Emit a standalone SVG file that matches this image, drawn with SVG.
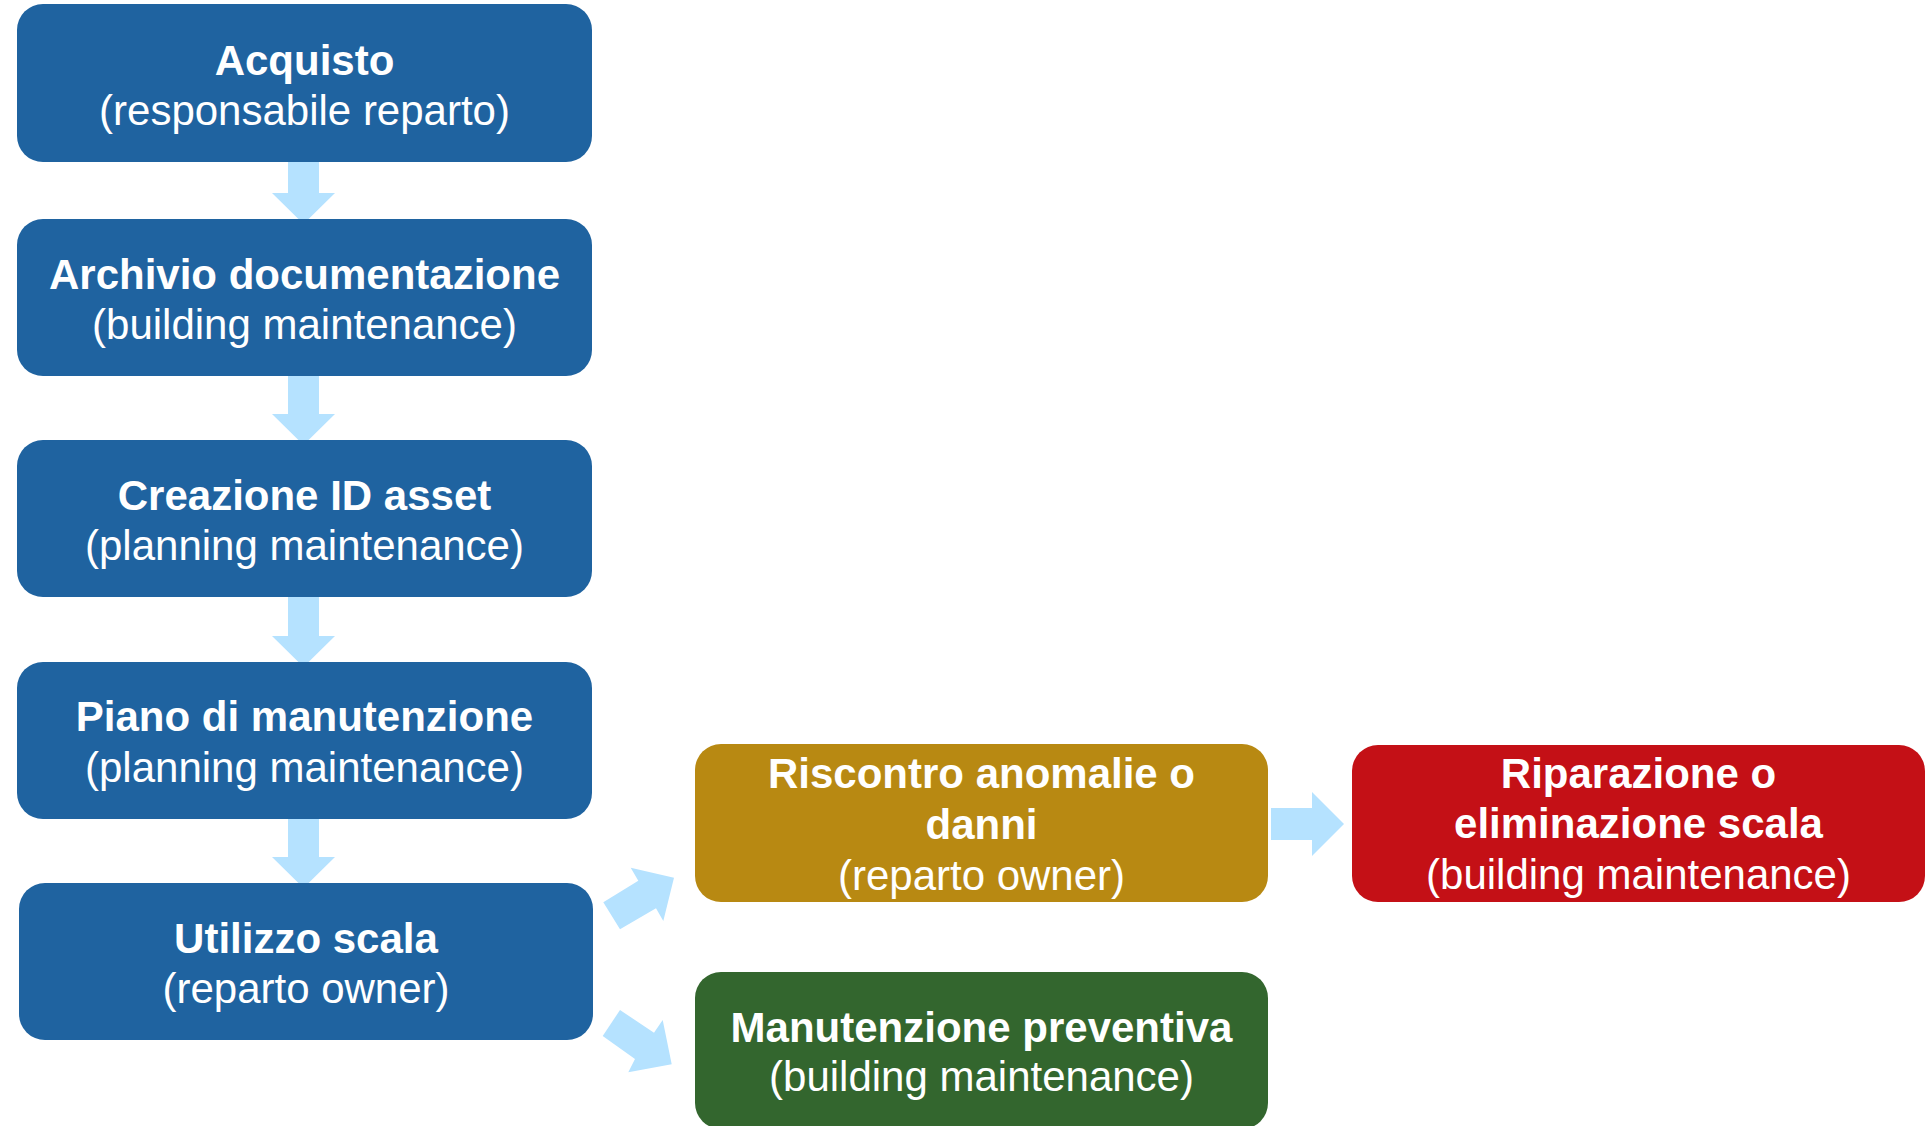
<svg xmlns="http://www.w3.org/2000/svg" width="1926" height="1126" viewBox="0 0 1926 1126">
<style>
.box{stroke:none}
.blue{fill:#1F63A0}
.gold{fill:#B88912}
.red{fill:#C41016}
.green{fill:#33662E}
.arrow{fill:#B5E2FF;stroke:none}
text{font-family:"Liberation Sans",Arial,sans-serif;font-size:42px;fill:#FFFFFF;text-anchor:middle}
.t{font-weight:bold}
</style>
<rect width="1926" height="1126" fill="#FFFFFF"/>
<g id="connectors">
<polygon class="arrow" points="288,152 319,152 319,193 335,193 303.5,224 272,193 288,193"/>
<polygon class="arrow" points="288,368 319,368 319,414 335,414 303.5,445 272,414 288,414"/>
<polygon class="arrow" points="288,589 319,589 319,636 335,636 303.5,667 272,636 288,636"/>
<polygon class="arrow" points="288,811 319,811 319,857 335,857 303.5,888 272,857 288,857"/>
<polygon class="arrow" points="603.3,902.3 638.3,880.7 630.7,867.7 674,877.7 663.3,921 656,908.3 620,929.3"/>
<polygon class="arrow" points="602.7,1036 620,1010 654,1032.7 662.7,1020 671.7,1064.3 628.3,1072.3 635,1059"/>
<polygon class="arrow" points="1271,808 1312,808 1312,792 1344,824 1312,856 1312,840 1271,840"/>
</g>
<g id="acquisto">
<rect class="box blue" x="17" y="4" width="575" height="158" rx="26"/>
<text class="t" x="304.5" y="75">Acquisto</text>
<text x="304.5" y="125">(responsabile reparto)</text>
</g>
<g id="archivio">
<rect class="box blue" x="17" y="219" width="575" height="157" rx="26"/>
<text class="t" x="304.5" y="289">Archivio documentazione</text>
<text x="304.5" y="339">(building maintenance)</text>
</g>
<g id="creazione">
<rect class="box blue" x="17" y="440" width="575" height="157" rx="26"/>
<text class="t" x="304.5" y="510">Creazione ID asset</text>
<text x="304.5" y="560">(planning maintenance)</text>
</g>
<g id="piano">
<rect class="box blue" x="17" y="662" width="575" height="157" rx="26"/>
<text class="t" x="304.5" y="731">Piano di manutenzione</text>
<text x="304.5" y="782">(planning maintenance)</text>
</g>
<g id="utilizzo">
<rect class="box blue" x="19" y="883" width="574" height="157" rx="26"/>
<text class="t" x="306" y="953">Utilizzo scala</text>
<text x="306" y="1003">(reparto owner)</text>
</g>
<g id="riscontro">
<rect class="box gold" x="695" y="744" width="573" height="158" rx="26"/>
<text class="t" x="981.5" y="788">Riscontro anomalie o</text>
<text class="t" x="981.5" y="839">danni</text>
<text x="981.5" y="890">(reparto owner)</text>
</g>
<g id="riparazione">
<rect class="box red" x="1352" y="745" width="573" height="157" rx="26"/>
<text class="t" x="1638.5" y="788">Riparazione o</text>
<text class="t" x="1638.5" y="838">eliminazione scala</text>
<text x="1638.5" y="889">(building maintenance)</text>
</g>
<g id="manutenzione">
<rect class="box green" x="695" y="972" width="573" height="157" rx="26"/>
<text class="t" x="981.5" y="1042">Manutenzione preventiva</text>
<text x="981.5" y="1091">(building maintenance)</text>
</g>
</svg>
